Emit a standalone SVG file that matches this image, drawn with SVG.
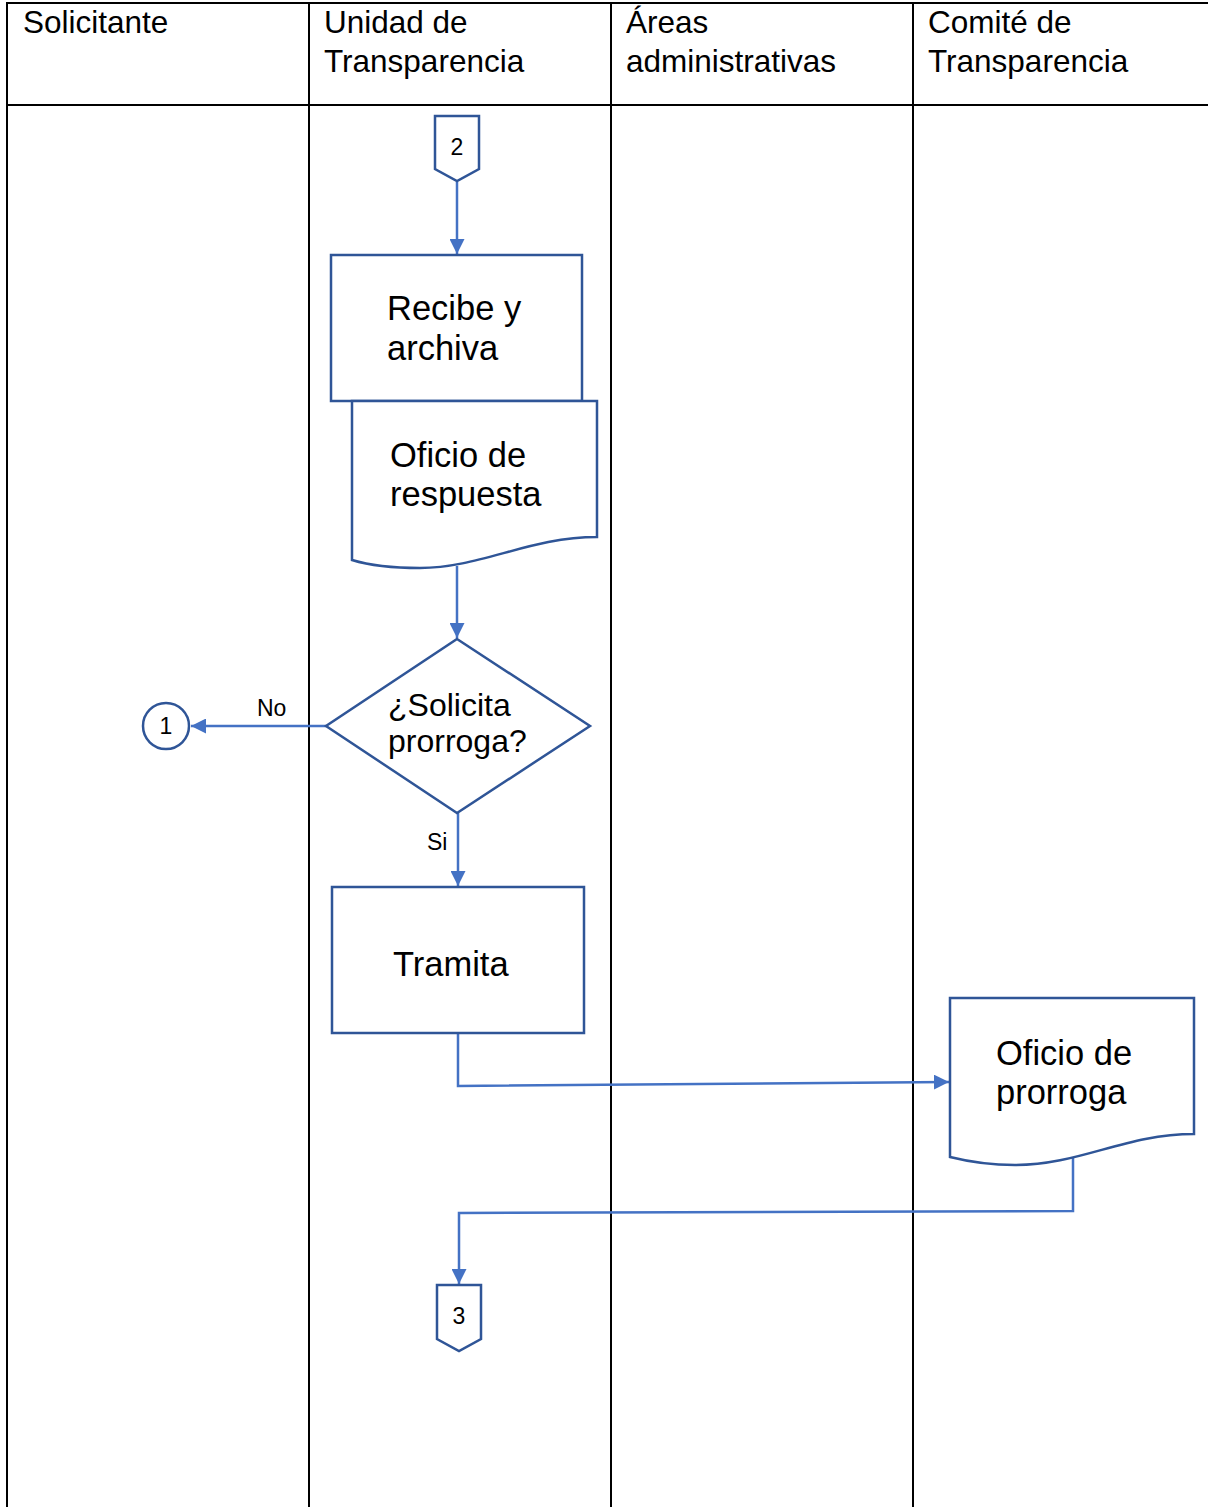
<svg xmlns="http://www.w3.org/2000/svg" width="1208" height="1507" viewBox="0 0 1208 1507">
<defs>
<marker id="ah" viewBox="0 0 10 10" refX="10" refY="5" markerWidth="6" markerHeight="6" orient="auto" markerUnits="strokeWidth">
<path d="M0,0 L10,5 L0,10 z" fill="#4472C4"/>
</marker>
<style>
.grid{stroke:#000;stroke-width:2;fill:none}
.hd{font-family:"Liberation Sans",Arial,sans-serif;font-size:31.5px;fill:#000}
.shape{fill:#fff;stroke:#2F5597;stroke-width:2.5}
.t{font-family:"Liberation Sans",Arial,sans-serif;font-size:34.5px;fill:#000}
.d{font-family:"Liberation Sans",Arial,sans-serif;font-size:32px;fill:#000}
.s{font-family:"Liberation Sans",Arial,sans-serif;font-size:23px;fill:#000}
.lbl{font-family:"Liberation Sans",Arial,sans-serif;font-size:23px;fill:#000}
.c{fill:none;stroke:#4472C4;stroke-width:2.5;marker-end:url(#ah)}
</style>
</defs>
<rect width="1208" height="1507" fill="#fff"/>
<g id="lanes">
<line class="grid" x1="6" y1="3" x2="1208" y2="3"/>
<line class="grid" x1="6" y1="105" x2="1208" y2="105"/>
<line class="grid" x1="7" y1="3" x2="7" y2="1507"/>
<line class="grid" x1="309" y1="3" x2="309" y2="1507"/>
<line class="grid" x1="611" y1="3" x2="611" y2="1507"/>
<line class="grid" x1="913" y1="3" x2="913" y2="1507"/>
<text class="hd" x="23" y="33">Solicitante</text>
<text class="hd" x="324" y="33">Unidad de</text>
<text class="hd" x="324" y="72">Transparencia</text>
<text class="hd" x="626" y="33">Áreas</text>
<text class="hd" x="626" y="72">administrativas</text>
<text class="hd" x="928" y="33">Comité de</text>
<text class="hd" x="928" y="72">Transparencia</text>
</g>
<g id="connectors">
<path class="c" d="M457,182 L457,254"/>
<path class="c" d="M457,566 L457,638"/>
<path class="c" d="M326,726 L191,726"/>
<path class="c" d="M458,813 L458,886"/>
<path class="c" d="M458,1033 L458,1086 L949,1082"/>
<path class="c" d="M1073,1157 L1073,1211 L459,1213 L459,1284"/>
<text class="lbl" x="257" y="716">No</text>
<text class="lbl" x="427" y="850">Si</text>
</g>
<g id="off2">
<path class="shape" d="M435,116 L479,116 L479,169 L457,181 L435,169 Z"/>
<text class="s" x="457" y="155" text-anchor="middle">2</text>
</g>
<g id="recibe">
<rect class="shape" x="331" y="255" width="251" height="146"/>
<text class="t" x="387" y="320">Recibe y</text>
<text class="t" x="387" y="360">archiva</text>
</g>
<g id="oficio-respuesta">
<path class="shape" d="M352,401 L597,401 L597,537 C530,537 480,568 420,568 C390,568 365,564 352,560 Z"/>
<text class="t" x="390" y="467">Oficio de</text>
<text class="t" x="390" y="506">respuesta</text>
</g>
<g id="decision">
<path class="shape" d="M457,639 L590,726 L457,813 L326,726 Z"/>
<text class="d" x="388" y="716">¿Solicita</text>
<text class="d" x="388" y="752">prorroga?</text>
</g>
<g id="conn1">
<circle class="shape" cx="166" cy="726" r="23"/>
<text class="s" x="166" y="734" text-anchor="middle">1</text>
</g>
<g id="tramita">
<rect class="shape" x="332" y="887" width="252" height="146"/>
<text class="t" x="393" y="976">Tramita</text>
</g>
<g id="oficio-prorroga">
<path class="shape" d="M950,998 L1194,998 L1194,1134 C1125,1134 1080,1165 1015,1165 C985,1165 962,1160 950,1157 Z"/>
<text class="t" x="996" y="1065">Oficio de</text>
<text class="t" x="996" y="1104">prorroga</text>
</g>
<g id="off3">
<path class="shape" d="M437,1285 L481,1285 L481,1339 L459,1351 L437,1339 Z"/>
<text class="s" x="459" y="1324" text-anchor="middle">3</text>
</g>
</svg>
